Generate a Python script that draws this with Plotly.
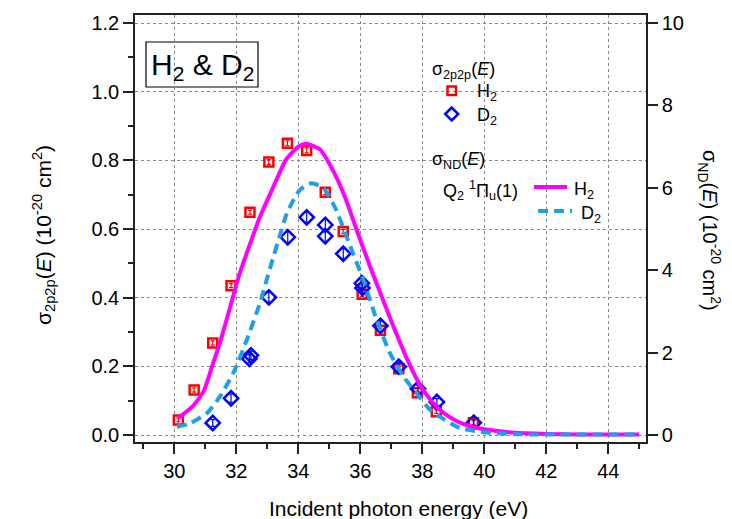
import plotly.graph_objects as go

# ---------------- data ----------------
energy_h2 = [30.13, 30.64, 31.24, 31.83, 32.44, 33.05, 33.65, 34.27, 34.87, 35.45,
             36.06, 36.65, 37.24, 37.84, 38.45, 39.65]
sigma_h2 = [0.044, 0.131, 0.268, 0.435, 0.649, 0.795, 0.850, 0.829, 0.707, 0.593,
            0.410, 0.305, 0.193, 0.123, 0.068, 0.036]
err_h2 = [0.006, 0.006, 0.006, 0.006, 0.006, 0.007, 0.007, 0.007, 0.007, 0.006,
          0.006, 0.006, 0.005, 0.005, 0.005, 0.005]

energy_d2 = [31.24, 31.83, 32.42, 32.47, 33.05, 33.66, 34.27, 34.87, 34.87, 35.45,
             36.05, 36.07, 36.65, 37.24, 37.86, 38.47, 39.66]
sigma_d2 = [0.035, 0.107, 0.222, 0.232, 0.401, 0.576, 0.634, 0.612, 0.579, 0.528,
            0.442, 0.428, 0.318, 0.199, 0.135, 0.096, 0.036]
err_d2 = [0.010, 0.012, 0.012, 0.012, 0.014, 0.016, 0.016, 0.018, 0.018, 0.015,
          0.015, 0.015, 0.014, 0.012, 0.010, 0.010, 0.008]

curve_e_h2 = [30.13, 30.6, 30.95, 31.2, 31.5, 31.8, 32.1, 32.45, 32.75, 33.2, 33.6,
              34.0, 34.25, 34.7, 35.1, 35.5, 35.9, 36.3, 36.7, 37.1, 37.5, 37.9,
              38.3, 38.7, 39.1, 39.6, 40.1, 40.9, 42.0, 43.0, 45.0]
curve_nd_h2 = [0.41, 0.70, 1.07, 1.62, 2.31, 3.10, 3.90, 4.65, 5.27, 6.03, 6.68,
               7.00, 7.07, 6.93, 6.45, 5.79, 4.94, 4.12, 3.34, 2.58, 1.86, 1.25,
               0.82, 0.53, 0.34, 0.20, 0.125, 0.06, 0.025, 0.015, 0.015]

curve_e_d2 = [30.08, 30.5, 31.05, 31.47, 31.9, 32.34, 32.76, 33.1, 33.4, 33.63, 34.05,
              34.43, 34.81, 35.2, 35.65, 36.1, 36.53, 36.96, 37.39, 37.82, 38.25,
              38.57, 39.21, 40.08, 41.0, 45.0]
curve_nd_d2 = [0.20, 0.28, 0.53, 0.93, 1.50, 2.31, 3.20, 4.08, 4.83, 5.38, 5.95,
               6.11, 5.99, 5.50, 4.63, 3.76, 2.79, 1.98, 1.42, 1.01, 0.61,
               0.44, 0.17, 0.06, 0.02, 0.01]

x_ticks = [30, 32, 34, 36, 38, 40, 42, 44]
left_ticks = [0.0, 0.2, 0.4, 0.6, 0.8, 1.0, 1.2]
right_ticks = [0, 2, 4, 6, 8, 10]

# ---------------- layout geometry ----------------
W, H = 732, 519
L, R, T, B = 135, 646, 15, 442
FONT = "Arial, Liberation Sans, sans-serif"

def px(x):
    return (x - L) / (R - L)

def py(y):
    return (B - y) / (B - T)

fig = go.Figure()

RED = "#ff0000"
BLUE = "#0000ff"
MAG = "#ff00ff"
CYAN = "rgb(30,160,230)"

fig.add_trace(go.Scatter(
    x=curve_e_h2, y=curve_nd_h2, yaxis="y2", mode="lines",
    line=dict(color=MAG, width=4, shape="spline", smoothing=0.6),
    showlegend=False, hoverinfo="skip"))
fig.add_trace(go.Scatter(
    x=curve_e_d2, y=curve_nd_d2, yaxis="y2", mode="lines",
    line=dict(color=CYAN, width=4, dash="10px,6px", shape="spline", smoothing=0.6),
    showlegend=False, hoverinfo="skip"))

fig.add_trace(go.Scatter(
    x=energy_h2, y=sigma_h2, mode="markers",
    marker=dict(symbol="square-open", size=9, color=RED, line=dict(width=2.5, color=RED)),
    error_y=dict(type="data", array=err_h2, color=RED, thickness=1.2, width=2),
    showlegend=False))
fig.add_trace(go.Scatter(
    x=energy_d2, y=sigma_d2, mode="markers",
    marker=dict(symbol="diamond-open", size=11, color=BLUE, line=dict(width=2.5, color=BLUE)),
    error_y=dict(type="data", array=err_d2, color=BLUE, thickness=1.2, width=2),
    showlegend=False))

tickfont = dict(family=FONT, size=20, color="black")
fig.update_layout(
    width=W, height=H,
    margin=dict(l=L, r=W - R, t=T, b=H - B),
    paper_bgcolor="white", plot_bgcolor="white",
    font=dict(family=FONT, color="black"),
    showlegend=False,
    xaxis=dict(
        range=[28.732, 45.216], tickmode="array", tickvals=x_ticks,
        ticktext=[str(v) for v in x_ticks],
        ticks="outside", ticklen=10, tickwidth=1.5, tickcolor="#222",
        minor=dict(dtick=1, tick0=29, ticks="outside", ticklen=5, tickwidth=1.5,
                   tickcolor="#222", showgrid=False),
        showline=True, linecolor="#222", linewidth=1.5, mirror=True,
        showgrid=True, gridcolor="#888", griddash="dot", gridwidth=1,
        zeroline=False, tickfont=tickfont),
    yaxis=dict(
        range=[-0.0204, 1.2233], tickmode="array", tickvals=left_ticks,
        ticktext=["%.1f" % v for v in left_ticks],
        ticks="outside", ticklen=10, tickwidth=1.5, tickcolor="#222",
        minor=dict(dtick=0.1, tick0=0, ticks="outside", ticklen=5, tickwidth=1.5,
                   tickcolor="#222", showgrid=False),
        showline=True, linecolor="#222", linewidth=1.5,
        showgrid=True, gridcolor="#888", griddash="dot", gridwidth=1,
        zeroline=False, tickfont=tickfont),
    yaxis2=dict(
        overlaying="y", side="right",
        range=[-0.17, 10.194], tickmode="array", tickvals=right_ticks,
        ticktext=[str(v) for v in right_ticks],
        ticks="outside", ticklen=10, tickwidth=1.5, tickcolor="#222",
        showline=True, linecolor="#222", linewidth=1.5,
        showgrid=False, zeroline=False, tickfont=tickfont),
)

ann = []
def A(text, x, y, size=16, xanchor="left", yanchor="middle", angle=0):
    ann.append(dict(text=text, x=px(x), y=py(y), xref="paper", yref="paper",
                    showarrow=False, xanchor=xanchor, yanchor=yanchor,
                    textangle=angle, font=dict(family=FONT, size=size, color="black")))

# axis titles
A("Incident photon energy (eV)", 398, 508, size=21, xanchor="center")
A("σ<sub>2p2p</sub>(<i>E</i>) (10<sup>-20</sup> cm<sup>2</sup>)", 43, 235, size=21,
  xanchor="center", angle=-90)
A("σ<sub>ND</sub>(<i>E</i>) (10<sup>-20</sup> cm<sup>2</sup>)", 710, 230, size=20,
  xanchor="center", angle=90)

# title box
A("H<sub>2</sub> & D<sub>2</sub>", 202, 66, size=30, xanchor="center")

# legend texts
A("σ<sub>2p2p</sub>(<i>E</i>)", 430, 70, size=18)
A("H<sub>2</sub>", 475, 93, size=18)
A("D<sub>2</sub>", 475, 116, size=18)
A("σ<sub>ND</sub>(<i>E</i>)", 430, 160, size=18)
A("Q<sub>2</sub> <sup>1</sup>Π<sub>u</sub>(1)", 441, 190, size=18)
A("H<sub>2</sub>", 572, 190, size=18)
A("D<sub>2</sub>", 579, 215, size=18)
fig.update_layout(annotations=ann)

shapes = []
# title box
shapes.append(dict(type="rect", xref="paper", yref="paper",
                   x0=px(146), x1=px(258), y0=py(87), y1=py(42),
                   line=dict(color="black", width=1.2), fillcolor="white", layer="below"))
# legend square
shapes.append(dict(type="rect", xref="paper", yref="paper",
                   x0=px(447.5), x1=px(456), y0=py(95), y1=py(86.5),
                   line=dict(color=RED, width=2.5)))
# legend diamond
cx, cy, r = 451.7, 114, 6.5
shapes.append(dict(type="path", xref="paper", yref="paper",
                   path="M %f %f L %f %f L %f %f L %f %f Z" % (
                       px(cx - r), py(cy), px(cx), py(cy - r),
                       px(cx + r), py(cy), px(cx), py(cy + r)),
                   line=dict(color=BLUE, width=2.5)))
# legend lines
shapes.append(dict(type="line", xref="paper", yref="paper",
                   x0=px(534), x1=px(567), y0=py(187), y1=py(187),
                   line=dict(color=MAG, width=4)))
shapes.append(dict(type="line", xref="paper", yref="paper",
                   x0=px(538), x1=px(572), y0=py(211), y1=py(211),
                   line=dict(color=CYAN, width=4, dash="10px,6px")))
fig.update_layout(shapes=shapes)

fig.write_html("out.html", config={"displayModeBar": False},
               post_script="document.body.style.margin='0';")
